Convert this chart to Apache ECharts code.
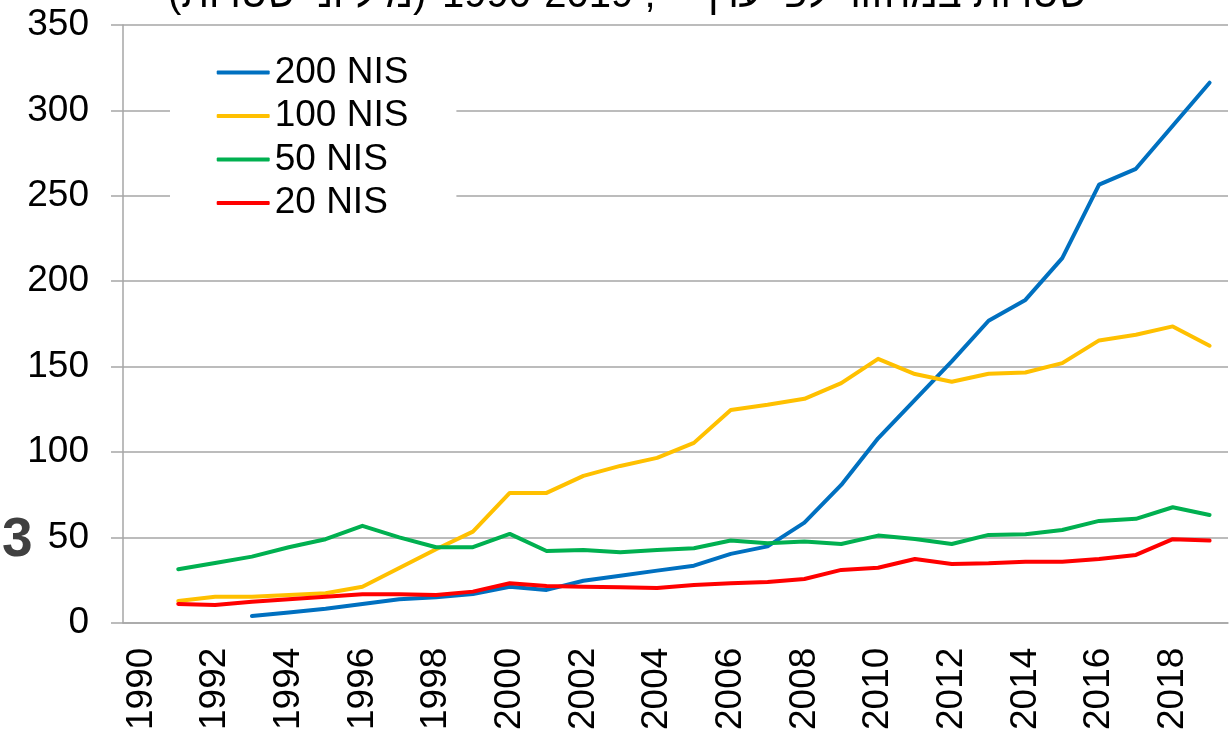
<!DOCTYPE html>
<html>
<head>
<meta charset="utf-8">
<script src="https://cdn.jsdelivr.net/npm/echarts@6/dist/echarts.min.js"></script>
<style>
html, body { margin: 0; padding: 0; background: #fff; }
#chart { width: 1230px; height: 736px; }
</style>
</head>
<body>
<div id="chart"></div>
<script>
// years on the category axis
var years = [];
for (var y = 1990; y <= 2019; y++) { years.push(String(y)); }

// values, 1990..2019
var nis200 = ['-', '-', '-', 3.9, 6.0, 8.2, 11.0, 13.7, 14.9, 16.8, 21.1, 19.2, 24.6, 27.5, 30.5, 33.4, 40.3, 44.7, 58.6, 80.7, 108.0, 130.5, 153.0, 176.8, 189.0, 213.5, 256.5, 265.8, 291.0, 316.2];
var nis100 = ['-', 12.7, 15.2, 15.2, 16.2, 17.2, 21.1, 32.0, 43.0, 53.3, 76.0, 76.0, 86.0, 91.8, 96.5, 105.3, 124.6, 127.6, 131.1, 140.3, 154.5, 145.6, 141.1, 145.8, 146.5, 152.0, 165.3, 168.6, 173.5, 162.2];
var nis50 = ['-', 31.3, 35.0, 38.7, 44.2, 48.9, 56.7, 50.0, 44.2, 44.2, 52.0, 42.0, 42.6, 41.3, 42.6, 43.6, 48.1, 46.5, 47.5, 46.1, 51.0, 49.0, 46.1, 51.4, 51.8, 54.3, 59.6, 60.8, 67.6, 63.1];
var nis20 = ['-', 11.0, 10.4, 12.3, 13.7, 15.2, 16.6, 16.6, 16.2, 18.2, 23.1, 21.5, 21.1, 20.7, 20.3, 22.1, 23.1, 23.9, 25.6, 30.9, 32.2, 37.3, 34.4, 34.8, 35.7, 35.7, 37.3, 39.7, 48.9, 48.1];

var seriesNames = ['200 NIS', '100 NIS', '50 NIS', '20 NIS'];
var seriesColors = ['#0070C0', '#FFC000', '#00B050', '#FF0000'];
var seriesData = [nis200, nis100, nis50, nis20];

// title is cut off at the top of the picture, only its lower edge shows
var titleParts = ['(מיליוני שטרות)', '1990-2019 ,', 'שטרות במחזור לפי ערך'];

var font = '"Liberation Sans", Arial, sans-serif';
var gridGray = '#a6a6a6';

var myChart = echarts.init(document.getElementById('chart'));

var series = [];
for (var i = 0; i < seriesNames.length; i++) {
	series.push({
		name: seriesNames[i],
		type: 'line',
		data: seriesData[i],
		symbol: 'none',
		connectNulls: false,
		lineStyle: { width: 4, color: seriesColors[i], cap: 'round', join: 'round' },
		itemStyle: { color: seriesColors[i] }
	});
}

var option = {
	animation: false,
	backgroundColor: '#fff',
	graphic: [
		{
			type: 'text', x: 168, y: -24,
			style: { text: titleParts[0], font: '40px ' + font, fill: '#000', align: 'left' }
		},
		{
			type: 'text', x: 442, y: -24,
			style: { text: titleParts[1], font: '40px ' + font, fill: '#000', align: 'left' }
		},
		{
			type: 'text', x: 697, y: -24,
			style: { text: titleParts[2], font: '40px ' + font, fill: '#000', align: 'left' }
		},
		{
			type: 'text', x: 2, y: 513,
			style: { text: '3', font: 'bold 55px ' + font, fill: '#404040' }
		}
	],
	grid: { left: 123, right: 2, top: 25, bottom: 113.3, containLabel: false },
	legend: {
		orient: 'vertical',
		left: 170,
		top: 44,
		padding: [10, 48, 12, 46.7],
		backgroundColor: '#fff',
		itemWidth: 53,
		itemHeight: 4,
		itemGap: 6.5,
		icon: 'roundRect',
		textStyle: { fontFamily: font, fontSize: 37, color: '#000', lineHeight: 37 },
		data: seriesNames
	},
	xAxis: {
		type: 'category',
		data: years,
		boundaryGap: true,
		axisLine: { lineStyle: { color: gridGray, width: 1.5 } },
		axisTick: { interval: 0, length: 11, lineStyle: { color: gridGray, width: 1.5 } },
		axisLabel: { interval: 1, rotate: 90, margin: 25, fontFamily: font, fontSize: 37, color: '#000' }
	},
	yAxis: {
		type: 'value',
		min: 0,
		max: 350,
		interval: 50,
		axisLine: { show: true, lineStyle: { color: gridGray, width: 1.5 } },
		axisTick: { show: true, length: 12, lineStyle: { color: gridGray, width: 1.5 } },
		axisLabel: { margin: 34, fontFamily: font, fontSize: 37, color: '#000' },
		splitLine: { show: true, lineStyle: { color: gridGray, width: 1.5 } }
	},
	series: series
};
myChart.setOption(option);
</script>
</body>
</html>
